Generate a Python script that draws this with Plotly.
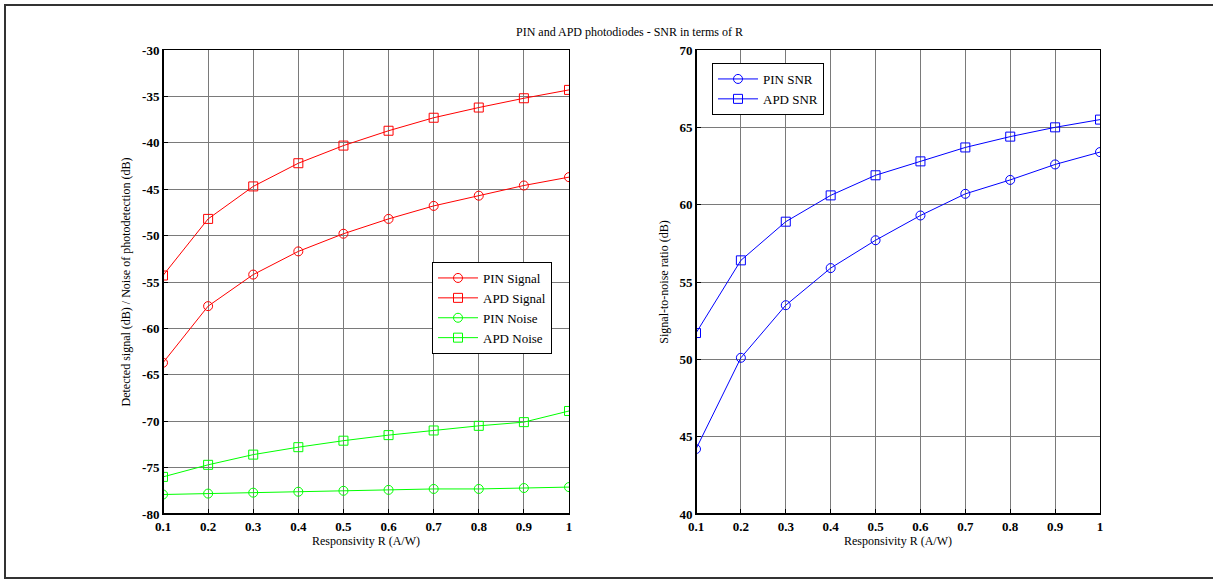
import plotly.graph_objects as go

W, H = 1213, 579

R = [0.1, 0.2, 0.3, 0.4, 0.5, 0.6, 0.7, 0.8, 0.9, 1.0]
x_ticktext = ["0.1", "0.2", "0.3", "0.4", "0.5", "0.6", "0.7", "0.8", "0.9", "1"]

pin_signal = [-63.7, -57.6, -54.2, -51.7, -49.8, -48.2, -46.8, -45.7, -44.6, -43.7]
apd_signal = [-54.3, -48.2, -44.7, -42.2, -40.3, -38.7, -37.3, -36.2, -35.2, -34.3]
pin_noise = [-77.9, -77.8, -77.7, -77.6, -77.5, -77.4, -77.3, -77.3, -77.2, -77.1]
apd_noise = [-76.0, -74.7, -73.6, -72.8, -72.1, -71.5, -71.0, -70.5, -70.1, -68.9]

pin_snr = [44.2, 50.1, 53.5, 55.9, 57.7, 59.3, 60.7, 61.6, 62.6, 63.4]
apd_snr = [51.7, 56.4, 58.9, 60.6, 61.9, 62.8, 63.7, 64.4, 65.0, 65.5]

left_yticks = [-80, -75, -70, -65, -60, -55, -50, -45, -40, -35, -30]
right_yticks = [40, 45, 50, 55, 60, 65, 70]

FONT = "Liberation Serif"

def px(v):
    return v / W

def py(v):
    return 1 - v / H

fig = go.Figure()

def add(xs, ys, name, color, symbol, xa, ya, legend):
    fig.add_trace(go.Scatter(
        x=xs, y=ys, name=name, mode="lines+markers",
        line=dict(color=color, width=1),
        marker=dict(symbol=symbol, size=9, color=color, line=dict(color=color, width=1)),
        xaxis=xa, yaxis=ya, legend=legend,
    ))

add(R, pin_signal, "PIN Signal", "#ff0000", "circle-open", "x", "y", "legend")
add(R, apd_signal, "APD Signal", "#ff0000", "square-open", "x", "y", "legend")
add(R, pin_noise, "PIN Noise", "#00ff00", "circle-open", "x", "y", "legend")
add(R, apd_noise, "APD Noise", "#00ff00", "square-open", "x", "y", "legend")
add(R, pin_snr, "PIN SNR", "#0000ff", "circle-open", "x2", "y2", "legend2")
add(R, apd_snr, "APD SNR", "#0000ff", "square-open", "x2", "y2", "legend2")

tickfont = dict(family=FONT, size=13, color="black", weight="bold")
titlefont = dict(family=FONT, size=12, color="black")

common_x = dict(
    range=[0.1, 1.0], tickmode="array", tickvals=R, ticktext=x_ticktext,
    showgrid=True, gridcolor="#7a7a7a", gridwidth=1,
    showline=True, linecolor="black", linewidth=1, mirror=True,
    ticks="inside", ticklen=5, tickcolor="black",
    tickfont=tickfont, zeroline=False, automargin=False,
    title=dict(text="Responsivity R (A/W)", font=titlefont, standoff=4),
)
common_y = dict(
    showgrid=True, gridcolor="#7a7a7a", gridwidth=1,
    showline=True, linecolor="black", linewidth=1, mirror=True,
    ticks="inside", ticklen=5, tickcolor="black",
    tickfont=tickfont, zeroline=False, tickmode="array", automargin=False,
)

L_dom = [px(163), px(569)]
R_dom = [px(696), px(1100)]
Y_dom = [py(514), py(50)]

legend_font = dict(family=FONT, size=13, color="black")

fig.update_layout(
    width=W, height=H, autosize=False,
    margin=dict(l=0, r=0, t=0, b=0, pad=0, autoexpand=False),
    paper_bgcolor="white", plot_bgcolor="white",
    font=dict(family=FONT, color="black"),
    xaxis=dict(domain=L_dom, anchor="y", **common_x),
    yaxis=dict(domain=Y_dom, anchor="x", range=[-80, -30], tickvals=left_yticks,
               ticktext=[str(v) for v in left_yticks],
               title=dict(text="Detected signal (dB) / Noise of photodetection (dB)", font=titlefont, standoff=8),
               **common_y),
    xaxis2=dict(domain=R_dom, anchor="y2", **common_x),
    yaxis2=dict(domain=Y_dom, anchor="x2", range=[40, 70], tickvals=right_yticks,
                ticktext=[str(v) for v in right_yticks],
                title=dict(text="Signal-to-noise ratio (dB)", font=titlefont, standoff=8),
                **common_y),
    legend=dict(x=px(432), y=py(262), xanchor="left", yanchor="top",
                bgcolor="white", bordercolor="black", borderwidth=1,
                font=legend_font, tracegroupgap=0, itemwidth=40),
    legend2=dict(x=px(712), y=py(63), xanchor="left", yanchor="top",
                 bgcolor="white", bordercolor="black", borderwidth=1,
                 font=legend_font, tracegroupgap=0, itemwidth=40),
    showlegend=True,
)

fig.add_annotation(
    text="PIN and APD photodiodes - SNR in terms of R",
    x=px(629), y=py(32), xref="paper", yref="paper",
    xanchor="center", yanchor="middle", showarrow=False,
    font=dict(family=FONT, size=12, color="black"),
)

shapes = []
# outer frame
shapes.append(dict(type="rect", xref="paper", yref="paper",
                   x0=px(5), x1=px(1225), y0=py(578), y1=py(5),
                   line=dict(color="#333333", width=2), layer="above"))
# thicker left/bottom axis lines
for xr, yr in (("x domain", "y domain"), ("x2 domain", "y2 domain")):
    shapes.append(dict(type="line", xref=xr, yref=yr, x0=0, x1=0, y0=0, y1=1,
                       line=dict(color="black", width=2), layer="above"))
    shapes.append(dict(type="line", xref=xr, yref=yr, x0=0, x1=1, y0=0, y1=0,
                       line=dict(color="black", width=2), layer="above"))
fig.update_layout(shapes=shapes)

fig.write_html("out.html", config={"displayModeBar": False},
               post_script="document.body.style.margin='0';")
